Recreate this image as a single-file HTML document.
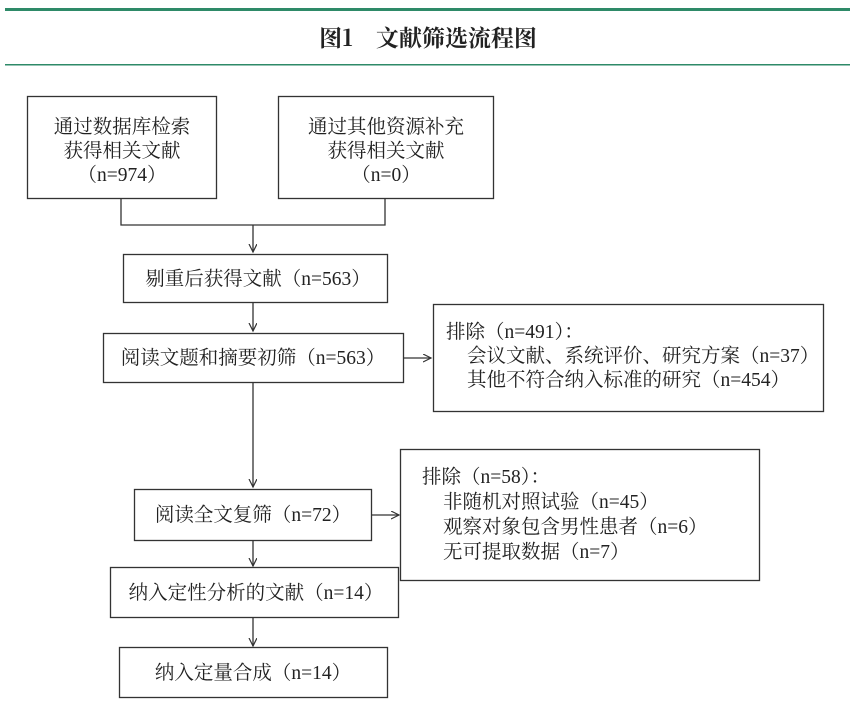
<!DOCTYPE html>
<html><head><meta charset="utf-8"><style>
html,body{margin:0;padding:0;background:#fff;}
svg{display:block;}
text{font-family:"Liberation Serif","Noto Serif CJK SC",serif;fill:#222;font-size:19.5px;}
</style></head><body>
<svg width="856" height="713" viewBox="0 0 856 713" xmlns="http://www.w3.org/2000/svg">
<defs><marker id="a" markerWidth="10" markerHeight="10" refX="8" refY="4" orient="auto" markerUnits="userSpaceOnUse"><path d="M0,0 L8,4 L0,8" fill="none" stroke="#333" stroke-width="1.2"/></marker></defs>
<rect x="5" y="8" width="845" height="3" fill="#2e8a68"/>
<rect x="5" y="64" width="845" height="1.5" fill="#2e8a68"/>
<text x="428" y="46" text-anchor="middle" style="font-size:23px;font-weight:bold;font-family:'Noto Serif CJK SC',serif">图1　文献筛选流程图</text>
<g fill="none" stroke="#333" stroke-width="1.3">
<rect x="27.5" y="96.5" width="189" height="102"/>
<rect x="278.5" y="96.5" width="215" height="102"/>
<polyline points="121,198 121,225 385,225 385,198"/>
<line x1="253" y1="225" x2="253" y2="252" marker-end="url(#a)"/>
<rect x="123.5" y="254.5" width="264" height="48"/>
<line x1="253" y1="302" x2="253" y2="331" marker-end="url(#a)"/>
<rect x="103.5" y="333.5" width="300" height="49"/>
<line x1="403" y1="358" x2="431" y2="358" marker-end="url(#a)"/>
<rect x="433.5" y="304.5" width="390" height="107"/>
<line x1="253" y1="382" x2="253" y2="487" marker-end="url(#a)"/>
<rect x="134.5" y="489.5" width="237" height="51"/>
<line x1="371" y1="515" x2="399" y2="515" marker-end="url(#a)"/>
<rect x="400.5" y="449.5" width="359" height="131"/>
<line x1="253" y1="540" x2="253" y2="566" marker-end="url(#a)"/>
<rect x="110.5" y="567.5" width="288" height="50"/>
<line x1="253" y1="617" x2="253" y2="646" marker-end="url(#a)"/>
<rect x="119.5" y="647.5" width="268" height="50"/>
</g>
<text x="122" y="133" text-anchor="middle">通过数据库检索</text>
<text x="122" y="157" text-anchor="middle">获得相关文献</text>
<text x="122" y="181" text-anchor="middle">（n=974）</text>
<text x="386" y="133" text-anchor="middle">通过其他资源补充</text>
<text x="386" y="157" text-anchor="middle">获得相关文献</text>
<text x="386" y="181" text-anchor="middle">（n=0）</text>
<text x="258" y="285" text-anchor="middle">剔重后获得文献（n=563）</text>
<text x="253" y="364" text-anchor="middle">阅读文题和摘要初筛（n=563）</text>
<text x="446" y="338">排除（n=491）：</text>
<text x="467" y="362">会议文献、系统评价、研究方案（n=37）</text>
<text x="467" y="386">其他不符合纳入标准的研究（n=454）</text>
<text x="253" y="521" text-anchor="middle">阅读全文复筛（n=72）</text>
<text x="422" y="483">排除（n=58）：</text>
<text x="443" y="508">非随机对照试验（n=45）</text>
<text x="443" y="533">观察对象包含男性患者（n=6）</text>
<text x="443" y="558">无可提取数据（n=7）</text>
<text x="256" y="599" text-anchor="middle">纳入定性分析的文献（n=14）</text>
<text x="253" y="679" text-anchor="middle">纳入定量合成（n=14）</text>
</svg>
</body></html>
